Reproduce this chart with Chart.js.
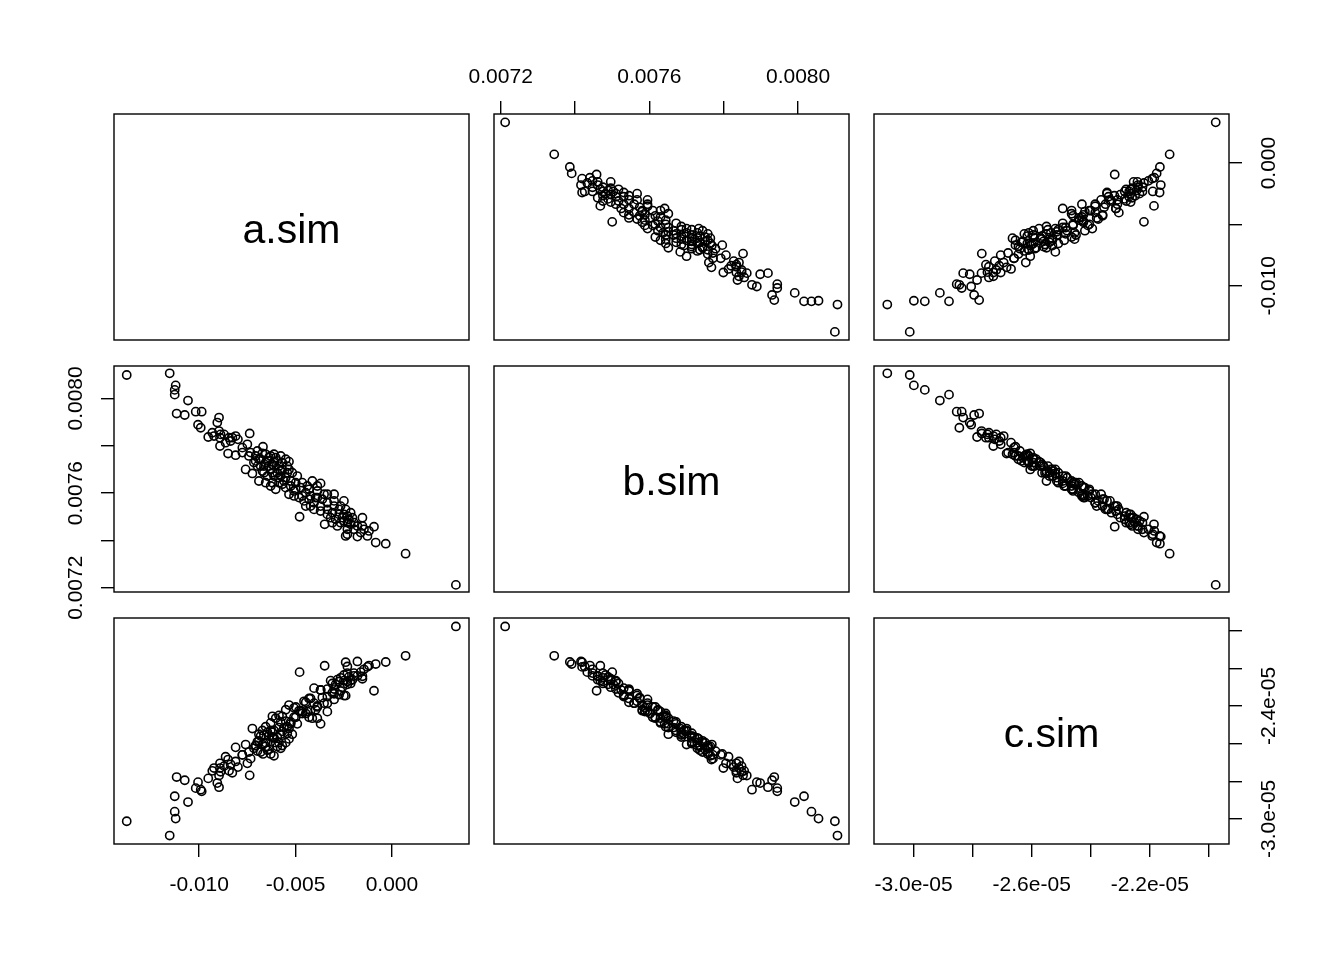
<!DOCTYPE html>
<html>
<head>
<meta charset="utf-8">
<script src="https://cdn.jsdelivr.net/npm/chart.js@4.4.1/dist/chart.umd.min.js"></script>
<style>
  body { margin: 0; background: #fff; width: 1344px; height: 960px; position: relative; overflow: hidden; }
  canvas { position: absolute; }
</style>
</head>
<body>
<script>
// simulated draws
const aSim = [
  -13.76e-3, -11.53e-3, -11.22e-3, -11.27e-3, -11.27e-3, -10.58e-3, -11.17e-3, -10.75e-3, -10.18e-3, -9.87e-3,
  -10.06e-3, -9.92e-3, -8.97e-3, -9.06e-3, -9.53e-3, -9.32e-3, -8.97e-3, -8.92e-3, -8.92e-3, -8.50e-3,
  -8.11e-3, -8.28e-3, -8.11e-3, -7.99e-3, -7.38e-3, -7.76e-3, -7.50e-3, -6.69e-3, -7.59e-3, -7.24e-3,
  -6.90e-3, -7.33e-3, -7.07e-3, -6.81e-3, -6.55e-3, -6.29e-3, -6.03e-3, -6.64e-3, -6.29e-3, -6.12e-3,
  -5.86e-3, -5.34e-3, -6.46e-3, -6.20e-3, -6.03e-3, -5.77e-3, -5.60e-3, -5.43e-3, -5.25e-3, -4.91e-3,
  -5.34e-3, -5.08e-3, -4.73e-3, -4.47e-3, -4.13e-3, -3.70e-3, -4.22e-3, -3.87e-3, -3.35e-3, -3.00e-3,
  -4.04e-3, -3.70e-3, -4.47e-3, -4.79e-3, -3.35e-3, -3.00e-3, -2.49e-3, -2.40e-3, -2.14e-3, -3.49e-3,
  -3.18e-3, -2.83e-3, -2.49e-3, -2.31e-3, -1.97e-3, -1.53e-3, -1.53e-3, -0.93e-3, -2.40e-3, -1.79e-3,
  -1.27e-3, -0.84e-3, -0.32e-3, 0.71e-3, 3.32e-3, -7.16e-3, -6.81e-3, -6.46e-3, -5.95e-3, -5.69e-3,
  -6.29e-3, -5.51e-3, -4.99e-3, -4.65e-3, -4.30e-3, -3.96e-3, -3.61e-3, -3.35e-3, -3.09e-3, -2.74e-3,
  -2.57e-3, -2.23e-3, -1.97e-3, -1.62e-3, -1.19e-3, -4.39e-3, -4.82e-3, -5.86e-3, -6.64e-3, -6.98e-3,
  -8.71e-3, -8.45e-3, -9.23e-3, -8.63e-3, -4.04e-3, -2.66e-3, -3.09e-3, -2.14e-3, -5.43e-3, -6.12e-3,
  -6.72e-3, -6.38e-3, -6.20e-3, -5.69e-3, -5.77e-3, -5.51e-3, -5.25e-3, -4.99e-3, -4.65e-3, -4.30e-3,
  -3.87e-3, -3.52e-3, -3.00e-3, -2.74e-3, -2.49e-3, -2.31e-3, -6.90e-3, -6.12e-3, -5.34e-3, -6.55e-3,
  -6.98e-3, -6.72e-3, -6.38e-3, -5.95e-3, -5.77e-3, -5.51e-3, -5.17e-3, -5.69e-3, -5.08e-3, -4.56e-3,
  -4.22e-3, -3.70e-3, -3.35e-3, -2.92e-3, -2.66e-3, -2.31e-3, -2.05e-3, -1.79e-3, -1.45e-3, -2.31e-3,
  -6.55e-3, -6.20e-3, -5.86e-3, -6.12e-3, -7.07e-3, -7.42e-3, -7.76e-3, -8.37e-3, -8.89e-3, -3.87e-3
];
const bSim = [
  8.099e-3, 8.106e-3, 8.055e-3, 8.036e-3, 8.016e-3, 7.991e-3, 7.936e-3, 7.930e-3, 7.944e-3, 7.944e-3,
  7.889e-3, 7.876e-3, 7.919e-3, 7.898e-3, 7.837e-3, 7.855e-3, 7.862e-3, 7.834e-3, 7.799e-3, 7.767e-3,
  7.760e-3, 7.834e-3, 7.841e-3, 7.827e-3, 7.852e-3, 7.792e-3, 7.806e-3, 7.796e-3, 7.700e-3, 7.683e-3,
  7.651e-3, 7.771e-3, 7.757e-3, 7.743e-3, 7.764e-3, 7.757e-3, 7.750e-3, 7.714e-3, 7.700e-3, 7.729e-3,
  7.714e-3, 7.733e-3, 7.672e-3, 7.644e-3, 7.616e-3, 7.672e-3, 7.651e-3, 7.686e-3, 7.630e-3, 7.672e-3,
  7.595e-3, 7.609e-3, 7.623e-3, 7.602e-3, 7.651e-3, 7.641e-3, 7.588e-3, 7.609e-3, 7.595e-3, 7.595e-3,
  7.559e-3, 7.545e-3, 7.545e-3, 7.500e-3, 7.531e-3, 7.545e-3, 7.567e-3, 7.531e-3, 7.517e-3, 7.468e-3,
  7.496e-3, 7.461e-3, 7.482e-3, 7.447e-3, 7.475e-3, 7.496e-3, 7.461e-3, 7.458e-3, 7.419e-3, 7.416e-3,
  7.419e-3, 7.391e-3, 7.386e-3, 7.344e-3, 7.212e-3, 7.729e-3, 7.714e-3, 7.736e-3, 7.686e-3, 7.700e-3,
  7.630e-3, 7.623e-3, 7.644e-3, 7.588e-3, 7.574e-3, 7.581e-3, 7.574e-3, 7.559e-3, 7.517e-3, 7.510e-3,
  7.496e-3, 7.489e-3, 7.447e-3, 7.433e-3, 7.440e-3, 7.630e-3, 7.581e-3, 7.644e-3, 7.686e-3, 7.778e-3,
  7.848e-3, 7.834e-3, 7.841e-3, 7.813e-3, 7.531e-3, 7.545e-3, 7.475e-3, 7.468e-3, 7.714e-3, 7.764e-3,
  7.768e-3, 7.750e-3, 7.721e-3, 7.729e-3, 7.693e-3, 7.665e-3, 7.651e-3, 7.616e-3, 7.644e-3, 7.616e-3,
  7.581e-3, 7.595e-3, 7.567e-3, 7.531e-3, 7.510e-3, 7.475e-3, 7.743e-3, 7.672e-3, 7.700e-3, 7.644e-3,
  7.714e-3, 7.693e-3, 7.714e-3, 7.736e-3, 7.757e-3, 7.743e-3, 7.686e-3, 7.637e-3, 7.588e-3, 7.567e-3,
  7.545e-3, 7.524e-3, 7.510e-3, 7.489e-3, 7.475e-3, 7.503e-3, 7.496e-3, 7.461e-3, 7.447e-3, 7.426e-3,
  7.729e-3, 7.686e-3, 7.665e-3, 7.714e-3, 7.736e-3, 7.757e-3, 7.771e-3, 7.820e-3, 7.848e-3, 7.630e-3
];
const cSim = [
  -30.13e-6, -30.89e-6, -29.99e-6, -29.62e-6, -28.80e-6, -29.11e-6, -27.78e-6, -27.95e-6, -28.37e-6, -28.54e-6,
  -28.05e-6, -28.45e-6, -28.32e-6, -28.10e-6, -27.85e-6, -27.45e-6, -27.70e-6, -27.05e-6, -27.30e-6, -26.85e-6,
  -26.20e-6, -27.55e-6, -26.95e-6, -27.25e-6, -27.69e-6, -26.60e-6, -27.05e-6, -26.55e-6, -26.05e-6, -25.20e-6,
  -25.50e-6, -26.80e-6, -26.10e-6, -26.45e-6, -26.15e-6, -26.55e-6, -25.95e-6, -26.00e-6, -25.30e-6, -25.70e-6,
  -25.95e-6, -25.75e-6, -25.40e-6, -24.55e-6, -24.65e-6, -24.85e-6, -25.15e-6, -25.10e-6, -24.85e-6, -24.95e-6,
  -23.95e-6, -24.60e-6, -24.25e-6, -24.40e-6, -24.65e-6, -24.95e-6, -24.25e-6, -24.05e-6, -24.30e-6, -23.65e-6,
  -23.85e-6, -23.15e-6, -23.80e-6, -22.20e-6, -23.50e-6, -23.10e-6, -23.45e-6, -23.45e-6, -22.80e-6, -21.86e-6,
  -22.65e-6, -22.60e-6, -22.35e-6, -22.25e-6, -22.25e-6, -22.55e-6, -22.42e-6, -23.19e-6, -21.67e-6, -21.63e-6,
  -21.92e-6, -21.77e-6, -21.66e-6, -21.33e-6, -19.77e-6, -26.25e-6, -25.60e-6, -26.35e-6, -25.65e-6, -25.35e-6,
  -24.90e-6, -24.20e-6, -24.60e-6, -24.30e-6, -23.60e-6, -24.20e-6, -23.55e-6, -23.85e-6, -23.30e-6, -22.70e-6,
  -23.00e-6, -22.45e-6, -22.40e-6, -22.20e-6, -21.85e-6, -24.30e-6, -24.25e-6, -24.50e-6, -25.55e-6, -26.40e-6,
  -27.20e-6, -27.45e-6, -27.30e-6, -26.70e-6, -23.05e-6, -23.20e-6, -22.80e-6, -22.65e-6, -25.45e-6, -26.65e-6,
  -26.05e-6, -26.30e-6, -25.65e-6, -26.10e-6, -25.50e-6, -24.80e-6, -24.95e-6, -24.05e-6, -24.40e-6, -24.60e-6,
  -24.00e-6, -23.85e-6, -23.35e-6, -23.40e-6, -22.65e-6, -22.70e-6, -25.85e-6, -25.30e-6, -25.20e-6, -25.10e-6,
  -25.90e-6, -25.30e-6, -25.60e-6, -26.15e-6, -26.25e-6, -25.95e-6, -25.50e-6, -24.55e-6, -24.10e-6, -23.75e-6,
  -23.60e-6, -23.15e-6, -23.10e-6, -22.85e-6, -22.50e-6, -22.85e-6, -22.60e-6, -22.40e-6, -22.05e-6, -21.90e-6,
  -25.95e-6, -25.40e-6, -25.15e-6, -25.70e-6, -26.10e-6, -26.45e-6, -26.60e-6, -27.10e-6, -27.50e-6, -24.65e-6
];

const varNames = ['a.sim', 'b.sim', 'c.sim'];

// axis ticks and the labels R kept on each side
const aTicks = [-0.010, -0.005, 0.000];
const bTicks = [0.0072, 0.0074, 0.0076, 0.0078, 0.0080];
const cTicks = [-3.0e-5, -2.8e-5, -2.6e-5, -2.4e-5, -2.2e-5, -2.0e-5];
const aBottomLabels = ['-0.010', '-0.005', '0.000'];
const aRightLabels = ['-0.010', '', '0.000'];
const bTopLabels = ['0.0072', '', '0.0076', '', '0.0080'];
const bLeftLabels = ['0.0072', '', '0.0076', '', '0.0080'];
const cBottomLabels = ['-3.0e-05', '', '-2.6e-05', '', '-2.2e-05', ''];
const cRightLabels = ['-3.0e-05', '', '', '-2.4e-05', '', ''];

const FONT = '"Liberation Sans", Arial, sans-serif';
const M = 60, W = 355, H = 226;
const colX = [114, 494, 874], rowY = [114, 366, 618];

const series = [aSim, bSim, cSim];
const ranges = [[-14.42e-3, 4.00e-3], [7.182e-3, 8.137e-3], [-31.34e-6, -19.32e-6]];

// outer axes of the pairs grid: "row,col" -> side -> [ticks, labels]
const outerAxes = {
  '0,1': { top: [bTicks, bTopLabels] },
  '0,2': { right: [aTicks, aRightLabels] },
  '1,0': { left: [bTicks, bLeftLabels] },
  '2,0': { bottom: [aTicks, aBottomLabels] },
  '2,2': { bottom: [cTicks, cBottomLabels], right: [cTicks, cRightLabels] }
};

const panelPlugin = {
  id: 'panel',
  afterDraw(chart, args, opts) {
    const { ctx, chartArea: ca } = chart;
    ctx.save();
    ctx.strokeStyle = '#000';
    ctx.lineWidth = 1.4;
    ctx.strokeRect(ca.left, ca.top, ca.width, ca.height);
    ctx.fillStyle = '#000';
    ctx.textAlign = 'center';
    if (opts.title) {
      ctx.font = '41px ' + FONT;
      ctx.textBaseline = 'alphabetic';
      ctx.fillText(opts.title, (ca.left + ca.right) / 2, (ca.top + ca.bottom) / 2 + 16);
    }
    if (opts.yLabels) {
      // R writes y tick labels parallel to the axis
      const s = chart.scales.y;
      ctx.font = '21px ' + FONT;
      ctx.textBaseline = 'middle';
      s.ticks.forEach((t, i) => {
        const lab = opts.yLabels[i];
        if (!lab) return;
        const yy = s.getPixelForValue(t.value);
        const xx = s.position === 'left' ? ca.left - 37.3 : ca.right + 40.5;
        ctx.save();
        ctx.translate(xx, yy);
        ctx.rotate(-Math.PI / 2);
        ctx.fillText(lab, 0, 0);
        ctx.restore();
      });
    }
    ctx.restore();
  }
};

function scaleOpts(id, range, side, spec) {
  const s = { type: 'linear', min: range[0], max: range[1], bounds: 'data', position: side, display: !!spec };
  if (!spec) return s;
  const [vals, labels] = spec;
  s.afterBuildTicks = sc => { sc.ticks = vals.map(v => ({ value: v })); };
  s.afterFit = sc => { if (sc.isHorizontal()) sc.height = M; else sc.width = M; };
  s.grid = { drawOnChartArea: false, drawTicks: true, tickLength: 13, color: '#000', lineWidth: 1.4 };
  s.border = { display: false };
  s.ticks = {
    display: id === 'x',
    autoSkip: false,
    maxRotation: 0,
    color: '#000',
    font: { family: FONT, size: 21 },
    padding: side === 'top' ? 11 : 16,
    callback: (v, i) => labels[i]
  };
  return s;
}

for (let r = 0; r < 3; r++) {
  for (let c = 0; c < 3; c++) {
    const cv = document.createElement('canvas');
    cv.width = W + 2 * M;
    cv.height = H + 2 * M;
    cv.style.left = (colX[c] - M) + 'px';
    cv.style.top = (rowY[r] - M) + 'px';
    document.body.appendChild(cv);

    const ax = outerAxes[r + ',' + c] || {};
    const xSide = ax.top ? 'top' : 'bottom';
    const ySide = ax.right ? 'right' : 'left';
    const ySpec = ax.left || ax.right;
    const diag = r === c;
    const pts = diag ? [] : series[c].map((v, i) => ({ x: v, y: series[r][i] }));

    new Chart(cv, {
      type: 'scatter',
      data: {
        datasets: [{
          data: pts,
          pointRadius: 4.1,
          pointHoverRadius: 4.1,
          borderWidth: 1.6,
          borderColor: '#000',
          backgroundColor: 'rgba(0,0,0,0)'
        }]
      },
      options: {
        responsive: false,
        animation: false,
        events: [],
        layout: {
          padding: {
            left: ax.left ? 0 : M,
            right: ax.right ? 0 : M,
            top: ax.top ? 0 : M,
            bottom: ax.bottom ? 0 : M
          }
        },
        scales: {
          x: scaleOpts('x', ranges[c], xSide, ax.top || ax.bottom),
          y: scaleOpts('y', ranges[r], ySide, ySpec)
        },
        plugins: {
          legend: { display: false },
          tooltip: { enabled: false },
          panel: { title: diag ? varNames[r] : null, yLabels: ySpec ? ySpec[1] : null }
        }
      },
      plugins: [panelPlugin]
    });
  }
}
</script>
</body>
</html>
